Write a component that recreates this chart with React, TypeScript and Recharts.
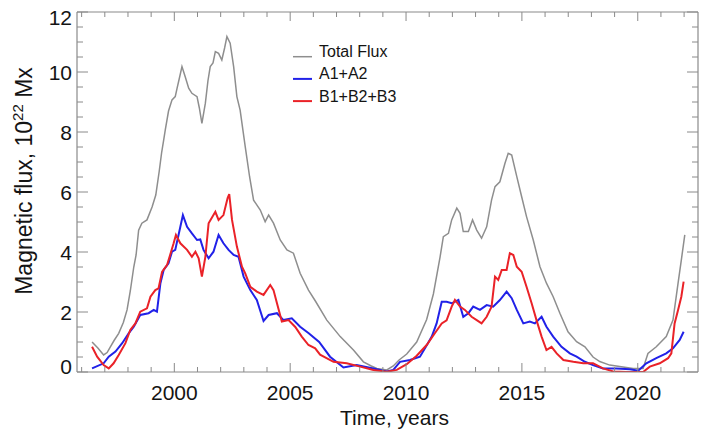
import React from 'react';
import { LineChart, Line, XAxis, YAxis, Legend, Label } from 'recharts';

// ---------- data ----------
const totalYears = [
  1996.45, 1996.7, 1996.95, 1997.1, 1997.24, 1997.4, 1997.6, 1997.8, 1997.96, 1998.1,
  1998.25, 1998.35, 1998.46, 1998.6, 1998.82, 1999.04, 1999.2, 1999.35, 1999.45, 1999.54,
  1999.61, 1999.75, 1999.9, 2000.04, 2000.12, 2000.22, 2000.33, 2000.47, 2000.62, 2000.76,
  2000.98, 2001.08, 2001.19, 2001.34, 2001.45, 2001.55, 2001.67, 2001.77, 2001.91, 2002.05,
  2002.17, 2002.27, 2002.41, 2002.56, 2002.7, 2002.84, 2003.06, 2003.25, 2003.42, 2003.71,
  2003.92, 2004.07, 2004.28, 2004.57, 2004.86, 2005.14, 2005.43, 2005.79, 2006.1, 2006.58,
  2007.16, 2007.73, 2008.16, 2008.5, 2008.74, 2009.17, 2009.45, 2009.7, 2010.03, 2010.46,
  2010.89, 2011.18, 2011.47, 2011.61, 2011.83, 2011.97, 2012.19, 2012.33, 2012.47, 2012.69,
  2012.87, 2013.05, 2013.26, 2013.48, 2013.69, 2013.84, 2014.05, 2014.27, 2014.41, 2014.56,
  2014.78, 2014.99, 2015.2, 2015.49, 2015.78, 2016.06, 2016.35, 2016.64, 2016.99, 2017.36,
  2017.72, 2018.07, 2018.36, 2018.79, 2019.22, 2019.8, 2020.23, 2020.44, 2020.8, 2021.23,
  2021.52, 2021.74, 2021.88, 2022.03,
];
const totalValues = [
  1.0, 0.8, 0.57, 0.65, 0.84, 1.05, 1.29, 1.65, 2.07, 2.7,
  3.5, 3.9, 4.73, 4.96, 5.07, 5.5, 5.9, 6.7, 7.3, 7.73,
  8.07, 8.7, 9.07, 9.18, 9.46, 9.8, 10.18, 9.84, 9.46, 9.29,
  9.18, 8.8, 8.29, 8.96, 9.7, 10.18, 10.3, 10.68, 10.62, 10.4,
  10.8, 11.18, 10.96, 10.18, 9.18, 8.73, 7.51, 6.5, 5.73, 5.4,
  5.01, 5.23, 4.96, 4.4, 4.07, 3.96, 3.29, 2.73, 2.35, 1.73,
  1.18, 0.73, 0.34, 0.2, 0.12, 0.07, 0.2, 0.4, 0.6, 1.0,
  1.75, 2.6, 3.84, 4.51, 4.62, 5.07, 5.46, 5.29, 4.68, 4.68,
  5.07, 4.73, 4.46, 4.84, 5.73, 6.18, 6.34, 6.96, 7.29, 7.23,
  6.51, 5.84, 5.18, 4.4, 3.51, 2.96, 2.51, 1.96, 1.34, 1.01,
  0.84, 0.5, 0.35, 0.23, 0.18, 0.12, 0.12, 0.62, 0.84, 1.18,
  1.73, 2.96, 3.73, 4.57,
];

const aYears = [
  1996.45, 1996.95, 1997.17, 1997.46, 1997.75, 1998.03, 1998.25, 1998.53, 1998.89, 1999.11,
  1999.25, 1999.4, 1999.54, 1999.75, 1999.9, 2000.04, 2000.26, 2000.37, 2000.55, 2000.76,
  2000.98, 2001.12, 2001.26, 2001.48, 2001.69, 2001.91, 2002.12, 2002.34, 2002.56, 2002.77,
  2002.99, 2003.28, 2003.56, 2003.85, 2004.07, 2004.43, 2004.71, 2005.07, 2005.43, 2005.8,
  2006.25, 2006.72, 2007.3, 2007.87, 2008.59, 2009.17, 2009.45, 2009.74, 2010.17, 2010.6,
  2010.9, 2011.11, 2011.32, 2011.54, 2011.75, 2011.97, 2012.26, 2012.47, 2012.69, 2012.9,
  2013.19, 2013.48, 2013.76, 2014.05, 2014.34, 2014.56, 2014.78, 2015.06, 2015.34, 2015.56,
  2015.85, 2016.06, 2016.35, 2016.71, 2017.07, 2017.36, 2017.72, 2018.07, 2018.5, 2019.08,
  2019.66, 2020.02, 2020.37, 2020.8, 2021.23, 2021.52, 2021.81, 2021.98,
];
const aValues = [
  0.12, 0.29, 0.51, 0.68, 0.96, 1.29, 1.51, 1.9, 1.96, 2.07,
  2.01, 2.96, 3.4, 3.62, 4.01, 4.07, 4.84, 5.23, 4.84, 4.62,
  4.4, 4.42, 4.07, 3.79, 4.01, 4.57, 4.29, 4.07, 3.9, 3.84,
  3.18, 2.73, 2.4, 1.7, 1.9, 1.96, 1.73, 1.79, 1.51, 1.29,
  1.0, 0.51, 0.15, 0.23, 0.12, 0.02, 0.07, 0.34, 0.4, 0.51,
  0.9, 1.18, 1.62, 2.34, 2.34, 2.29, 2.4, 1.84, 1.96, 2.18,
  2.07, 2.23, 2.18, 2.4, 2.68, 2.46, 2.07, 1.62, 1.68, 1.62,
  1.84, 1.51, 1.18, 0.84, 0.62, 0.51, 0.34, 0.23, 0.12, 0.12,
  0.09, 0.04, 0.29, 0.46, 0.62, 0.79, 1.07, 1.34,
];

const bYears = [
  1996.45, 1996.67, 1996.95, 1997.17, 1997.38, 1997.6, 1997.89, 1998.1, 1998.32, 1998.53,
  1998.82, 1998.97, 1999.18, 1999.32, 1999.47, 1999.69, 1999.97, 2000.07, 2000.26, 2000.55,
  2000.76, 2000.91, 2001.05, 2001.19, 2001.34, 2001.48, 2001.77, 2001.91, 2002.12, 2002.3,
  2002.37, 2002.49, 2002.7, 2002.92, 2003.06, 2003.28, 2003.56, 2003.85, 2004.14, 2004.28,
  2004.43, 2004.64, 2004.93, 2005.22, 2005.5, 2005.79, 2006.08, 2006.29, 2006.87, 2007.44,
  2008.02, 2008.59, 2009.17, 2009.6, 2010.03, 2010.46, 2010.89, 2011.25, 2011.54, 2011.75,
  2011.97, 2012.11, 2012.33, 2012.54, 2012.83, 2013.05, 2013.26, 2013.48, 2013.69, 2013.84,
  2013.98, 2014.13, 2014.34, 2014.48, 2014.63, 2014.78, 2014.99, 2015.2, 2015.42, 2015.63,
  2015.85, 2016.06, 2016.28, 2016.5, 2016.79, 2017.22, 2017.65, 2018.07, 2018.5, 2018.94,
  2019.51, 2020.23, 2020.52, 2020.95, 2021.31, 2021.45, 2021.59, 2021.74, 2021.88, 2021.98,
];
const bValues = [
  0.84, 0.51, 0.23, 0.12, 0.29, 0.57, 0.96, 1.4, 1.62, 2.01,
  2.12, 2.51, 2.73, 2.79, 3.34, 3.57, 4.29, 4.57, 4.29, 4.07,
  3.84, 4.01, 3.79, 3.18, 3.84, 4.96, 5.34, 5.07, 5.23, 5.8,
  5.93, 5.07, 4.18, 3.51, 3.29, 2.84, 2.68, 2.57, 2.9, 2.73,
  2.29, 1.68, 1.73, 1.5, 1.18, 0.9, 0.79, 0.58, 0.34, 0.29,
  0.18, 0.07, 0.01, 0.07, 0.26, 0.54, 0.9, 1.3, 1.62, 1.72,
  2.18, 2.4, 2.18, 2.07, 1.84, 1.73, 1.62, 1.84, 2.18, 3.18,
  3.07, 3.4, 3.4, 3.96, 3.9, 3.51, 3.34, 2.84, 2.29, 1.73,
  1.18, 0.73, 0.84, 0.62, 0.4, 0.34, 0.29, 0.29, 0.12, 0.02,
  0, 0, 0.18, 0.29, 0.46, 0.62, 1.62, 2.07, 2.51, 3.01,
];

const seriesNames = ['Total Flux', 'A1+A2', 'B1+B2+B3'];
const seriesColors = ['#8e8e8e', '#2121e8', '#ea2228'];

const xMajorTicks = [2000, 2005, 2010, 2015, 2020];
const xTicks = [
  1996, 1997, 1998, 1999, 2000, 2001, 2002, 2003, 2004, 2005, 2006, 2007, 2008, 2009,
  2010, 2011, 2012, 2013, 2014, 2015, 2016, 2017, 2018, 2019, 2020, 2021, 2022,
];
const yMajorTicks = [0, 2, 4, 6, 8, 10, 12];
const yTicks = [
  0, 0.5, 1, 1.5, 2, 2.5, 3, 3.5, 4, 4.5, 5, 5.5, 6, 6.5, 7, 7.5, 8, 8.5, 9, 9.5, 10,
  10.5, 11, 11.5, 12,
];

const toSeries = (xs: number[], vs: number[]) => xs.map((t, i) => ({ t, v: vs[i] }));
const totalData = toSeries(totalYears, totalValues);
const aData = toSeries(aYears, aValues);
const bData = toSeries(bYears, bValues);

// ---------- style ----------
const FONT = '"Liberation Sans", Arial, Helvetica, sans-serif';
const AXIS = '#8a8a8a';
const TEXT = '#141414';
const TM = 6; // tick margin used to recover axis position

const BottomTick = (props: any) => {
  const { x, y, payload } = props;
  const base = y - TM;
  const major = xMajorTicks.includes(payload.value);
  return (
    <g>
      <line x1={x} x2={x} y1={base} y2={base - (major ? 9 : 5)} stroke={AXIS} strokeWidth={1} />
      {major && (
        <text x={x} y={base + 28} textAnchor="middle" fontSize={21} fontFamily={FONT} fill={TEXT}>
          {payload.value}
        </text>
      )}
    </g>
  );
};

const TopTick = (props: any) => {
  const { x, y, payload } = props;
  const base = y + TM;
  const major = xMajorTicks.includes(payload.value);
  return <line x1={x} x2={x} y1={base} y2={base + (major ? 9 : 5)} stroke={AXIS} strokeWidth={1} />;
};

const LeftTick = (props: any) => {
  const { x, y, payload } = props;
  const base = x + TM;
  const major = yMajorTicks.includes(payload.value);
  let shift = 7.5;
  if (payload.value === 12) shift = 13;
  if (payload.value === 0) shift = 1.5;
  return (
    <g>
      <line x1={base} x2={base + (major ? 11 : 6)} y1={y} y2={y} stroke={AXIS} strokeWidth={1} />
      {major && (
        <text x={base - 5} y={y + shift} textAnchor="end" fontSize={21} fontFamily={FONT} fill={TEXT}>
          {payload.value}
        </text>
      )}
    </g>
  );
};

const RightTick = (props: any) => {
  const { x, y, payload } = props;
  const base = x - TM;
  const major = yMajorTicks.includes(payload.value);
  return <line x1={base} x2={base - (major ? 11 : 6)} y1={y} y2={y} stroke={AXIS} strokeWidth={1} />;
};

const YTitle = (props: any) => {
  const vb = props.viewBox || { x: 17, y: 12, width: 60, height: 360 };
  const cx = vb.x + 15;
  const cy = vb.y + vb.height / 2 - 11;
  return (
    <text
      x={cx}
      y={cy}
      transform={`rotate(-90, ${cx}, ${cy})`}
      textAnchor="middle"
      fontSize={23}
      fontFamily={FONT}
      fill={TEXT}
    >
      <tspan>Magnetic flux, 10</tspan>
      <tspan dy={-9} fontSize={15}>22</tspan>
      <tspan dy={9}> Mx</tspan>
    </text>
  );
};

const XTitle = (props: any) => {
  const vb = props.viewBox || { x: 77, y: 372, width: 621, height: 55 };
  return (
    <text
      x={vb.x + vb.width / 2 + 7}
      y={vb.y + 53}
      textAnchor="middle"
      fontSize={21}
      fontFamily={FONT}
      fill={TEXT}
    >
      Time, years
    </text>
  );
};

const LegendBox = () => (
  <svg width={170} height={80} style={{ display: 'block' }}>
    {seriesNames.map((name, i) => {
      const yy = 18.7 + i * 22.2;
      return (
        <g key={name}>
          <line x1={5} x2={24} y1={yy} y2={yy} stroke={seriesColors[i]} strokeWidth={i === 0 ? 1.5 : 2} />
          <text x={31} y={yy + 0.5} fontSize={16} fontFamily={FONT} fill={TEXT}>
            {name}
          </text>
        </g>
      );
    })}
  </svg>
);

export default function App() {
  return (
    <div style={{ position: 'absolute', left: 0, top: 0, width: 703, height: 431 }}>
      <LineChart width={703} height={431} margin={{ top: 8, right: 3, bottom: 4, left: 17 }}>
        <XAxis
          dataKey="t"
          type="number"
          domain={[1995.8, 2022.6]}
          allowDataOverflow
          ticks={xTicks}
          interval={0}
          tickSize={0}
          tickMargin={TM}
          tick={<BottomTick />}
          tickLine={false}
          axisLine={{ stroke: AXIS, strokeWidth: 1.2 }}
          height={55}
        >
          <Label content={<XTitle />} />
        </XAxis>
        <XAxis
          xAxisId="top"
          orientation="top"
          dataKey="t"
          type="number"
          domain={[1995.8, 2022.6]}
          allowDataOverflow
          ticks={xTicks}
          interval={0}
          tickSize={0}
          tickMargin={TM}
          tick={<TopTick />}
          tickLine={false}
          axisLine={{ stroke: AXIS, strokeWidth: 1.2 }}
          height={4}
        />
        <YAxis
          type="number"
          domain={[0, 12]}
          allowDataOverflow
          ticks={yTicks}
          interval={0}
          tickSize={0}
          tickMargin={TM}
          tick={<LeftTick />}
          tickLine={false}
          axisLine={{ stroke: AXIS, strokeWidth: 1.2 }}
          width={60}
        >
          <Label content={<YTitle />} />
        </YAxis>
        <YAxis
          yAxisId="right"
          orientation="right"
          type="number"
          domain={[0, 12]}
          allowDataOverflow
          ticks={yTicks}
          interval={0}
          tickSize={0}
          tickMargin={TM}
          tick={<RightTick />}
          tickLine={false}
          axisLine={{ stroke: AXIS, strokeWidth: 1.2 }}
          width={2}
        />
        <Line
          data={totalData}
          dataKey="v"
          name={seriesNames[0]}
          type="linear"
          stroke={seriesColors[0]}
          strokeWidth={1.5}
          dot={false}
          activeDot={false}
          isAnimationActive={false}
        />
        <Line
          data={aData}
          dataKey="v"
          name={seriesNames[1]}
          type="linear"
          stroke={seriesColors[1]}
          strokeWidth={2}
          dot={false}
          activeDot={false}
          isAnimationActive={false}
        />
        <Line
          data={bData}
          dataKey="v"
          name={seriesNames[2]}
          type="linear"
          stroke={seriesColors[2]}
          strokeWidth={2}
          dot={false}
          activeDot={false}
          isAnimationActive={false}
        />
        <Legend
          layout="vertical"
          align="center"
          verticalAlign="middle"
          wrapperStyle={{ position: 'absolute', left: 288, top: 38, width: 170, height: 80 }}
          content={<LegendBox />}
        />
      </LineChart>
    </div>
  );
}
